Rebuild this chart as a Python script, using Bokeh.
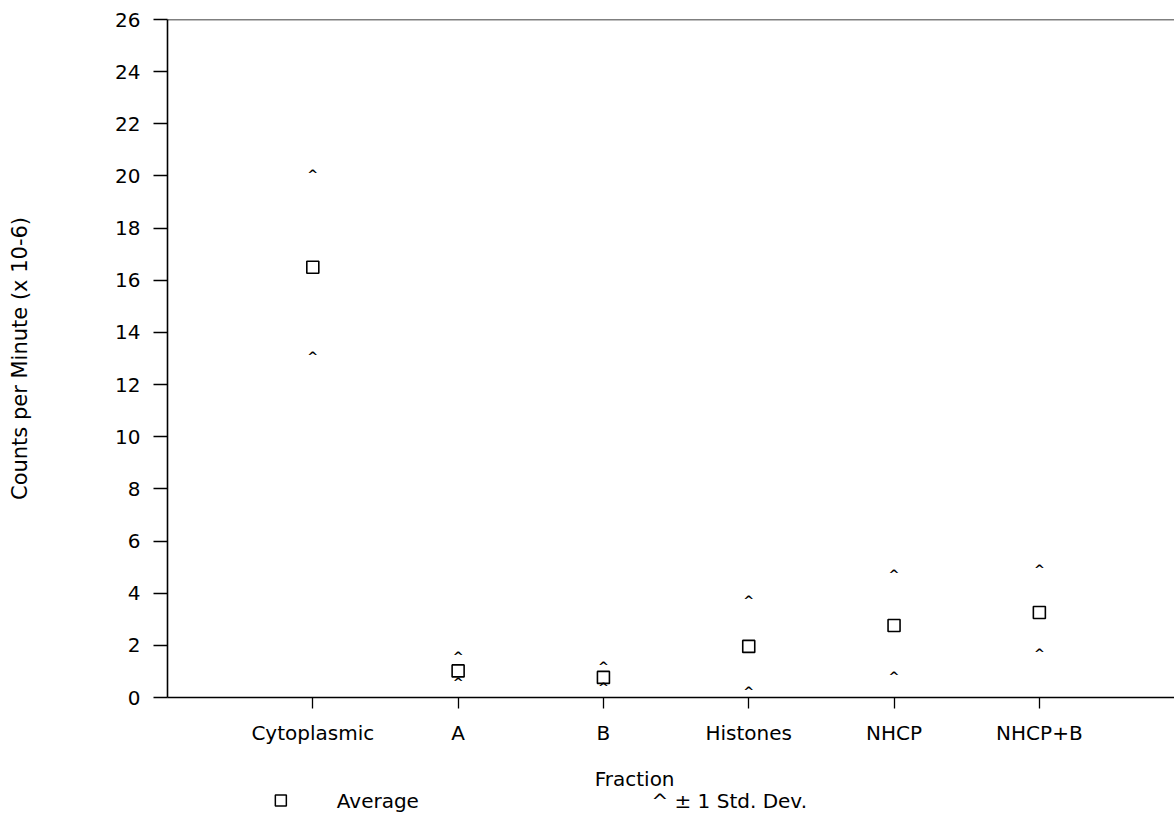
from bokeh.plotting import figure
from bokeh.layouts import column
from bokeh.models import FixedTicker, Span, Label, ColumnDataSource, Range1d
from bokeh.core.properties import value
from bokeh.embed import file_html
from bokeh.resources import INLINE

# ---- data ----
fractions = ["Cytoplasmic", "A", "B", "Histones", "NHCP", "NHCP+B"]
average = [16.5, 1.02, 0.77, 1.96, 2.76, 3.26]
sd_upper = [20.05, 1.57, 1.19, 3.72, 4.72, 4.91]
sd_lower = [13.08, 0.57, 0.38, 0.22, 0.80, 1.69]
y_ticks = list(range(0, 27, 2))

positions = [i + 1 for i in range(len(fractions))]
FONT = "DejaVu Sans"
INK = "black"

src = ColumnDataSource(dict(x=positions, avg=average, up=sd_upper, lo=sd_lower,
                            caret=["^"] * len(positions)))

X_END = 6.93
p = figure(width=1174, height=752, output_backend="svg", toolbar_location=None,
           x_range=Range1d(0, X_END), y_range=Range1d(0, 26),
           min_border_left=167, min_border_top=19, min_border_bottom=55,
           min_border_right=0)
p.outline_line_color = None
p.xgrid.visible = False
p.ygrid.visible = False

# average squares
p.scatter("x", "avg", source=src, marker="square", size=12, fill_color=None,
          line_color=INK, line_width=1.6)
# +/- 1 SD carets
for col in ("up", "lo"):
    p.text("x", col, text="caret", source=src, text_font=value(FONT),
           text_font_style="bold", text_font_size="13px", text_color=INK,
           text_align="center", text_baseline="middle")

# top border
p.add_layout(Span(location=26, dimension="width", line_color=INK, line_width=1.6))

# y axis
ya = p.yaxis[0]
ya.ticker = FixedTicker(ticks=y_ticks)
ya.axis_label = "Counts per Minute (x 10-6)"
ya.axis_label_text_font = FONT
ya.axis_label_text_font_style = "normal"
ya.axis_label_text_font_size = "21px"
ya.axis_label_text_color = INK
ya.axis_label_standoff = 80
ya.major_label_text_font = FONT
ya.major_label_text_font_size = "20px"
ya.major_label_text_color = INK
ya.major_label_standoff = 13
ya.major_tick_out = 14
ya.major_tick_in = 0
ya.minor_tick_out = 0
ya.minor_tick_in = 0
ya.axis_line_width = 1.6
ya.axis_line_color = INK
ya.major_tick_line_width = 1.3
ya.major_tick_line_color = INK

# x axis
xa = p.xaxis[0]
xa.ticker = FixedTicker(ticks=positions)
xa.major_label_overrides = {pos: name for pos, name in zip(positions, fractions)}
xa.major_label_text_font = FONT
xa.major_label_text_font_size = "20px"
xa.major_label_text_color = INK
xa.major_label_standoff = 12
xa.major_tick_out = 11
xa.major_tick_in = 0
xa.minor_tick_out = 0
xa.minor_tick_in = 0
xa.axis_line_width = 1.6
xa.axis_line_color = INK
xa.major_tick_line_width = 1.3
xa.major_tick_line_color = INK

# ---- strip below the chart: axis title and key ----
px_per_unit = 678 / 26.0
k = figure(width=1174, height=61, output_backend="svg", toolbar_location=None,
           x_range=p.x_range,
           y_range=Range1d(-116 / px_per_unit, -55 / px_per_unit),
           min_border_left=167, min_border_top=0, min_border_bottom=0,
           min_border_right=0)
k.outline_line_color = None
k.xaxis.visible = False
k.yaxis.visible = False
k.xgrid.visible = False
k.ygrid.visible = False

key_src = ColumnDataSource(dict(x=[0.78], y=[-3.95]))
k.scatter("x", "y", source=key_src, marker="square", size=11, fill_color=None,
          line_color=INK, line_width=1.5)
k.add_layout(Label(x=2.94, y=-3.14, text="Fraction", text_font=FONT, text_color=INK,
                   text_font_size="20px", text_align="left", text_baseline="middle"))
k.add_layout(Label(x=1.165, y=-3.95, text="Average", text_font=FONT, text_color=INK,
                   text_font_size="20px", text_align="left", text_baseline="middle"))
k.add_layout(Label(x=3.33, y=-3.95, text="^ \u00b1 1 Std. Dev.", text_font=FONT,
                   text_color=INK, text_font_size="20px", text_align="left",
                   text_baseline="middle"))

layout = column(p, k, spacing=0)
open("out.html", "w").write(file_html(layout, INLINE))
